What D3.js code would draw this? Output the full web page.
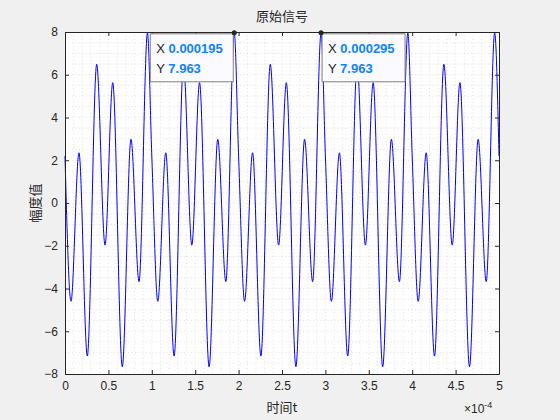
<!DOCTYPE html>
<html><head><meta charset="utf-8">
<script src="https://cdn.jsdelivr.net/npm/d3@7"></script>
<style>body{margin:0;background:#f0f0f0;}svg{display:block;font-family:"Liberation Sans",Arial,sans-serif;}</style>
</head><body>
<script>
let tPoints = [
  0, 0.069, 0.161, 0.257, 0.365, 0.461, 0.550, 0.660, 0.760, 0.853, 0.950,
  1.0, 1.069, 1.161, 1.257, 1.365, 1.461, 1.550, 1.660, 1.760, 1.853, 1.950,
  2.0, 2.069, 2.161, 2.257, 2.365, 2.461, 2.550, 2.660, 2.760, 2.853, 2.950,
  3.0, 3.069, 3.161, 3.257, 3.365, 3.461, 3.550, 3.660, 3.760, 3.853, 3.950,
  4.0, 4.069, 4.161, 4.257, 4.365, 4.461, 4.550, 4.660, 4.760, 4.853, 4.950, 5.0
];
let yPoints = [
  2.2, -4.6, 2.35, -7.16, 6.49, -1.97, 5.63, -7.66, 2.98, -3.68, 7.963,
  2.2, -4.6, 2.35, -7.16, 6.49, -1.97, 5.63, -7.66, 2.98, -3.68, 7.963,
  2.2, -4.6, 2.35, -7.16, 6.49, -1.97, 5.63, -7.66, 2.98, -3.68, 7.963,
  2.2, -4.6, 2.35, -7.16, 6.49, -1.97, 5.63, -7.66, 2.98, -3.68, 7.963,
  2.2, -4.6, 2.35, -7.16, 6.49, -1.97, 5.63, -7.66, 2.98, -3.68, 7.963, 2.2
];
let xTicks = [0, 0.5, 1, 1.5, 2, 2.5, 3, 3.5, 4, 4.5, 5];
let yTicks = [-8, -6, -4, -2, 0, 2, 4, 6, 8];
let tips = [{x: 1.95, label: "0.000195", y: 7.963, side: -1}, {x: 2.95, label: "0.000295", y: 7.963, side: 1}];

let w = 560, h = 420;
let mLeft = 65, mRight = 499, mTop = 32, mBottom = 374;

let xScale = d3.scaleLinear().domain([0, 5]).range([mLeft, mRight]);
let yScale = d3.scaleLinear().domain([-8, 8]).range([mBottom, mTop]);

let svg = d3.select("body").append("svg").attr("width", w).attr("height", h);
svg.append("rect").attr("x", mLeft).attr("y", mTop).attr("width", mRight - mLeft).attr("height", mBottom - mTop).attr("fill", "#fff");

// minor grid
let grid = svg.append("g").attr("stroke", "#c4c4c4").attr("stroke-width", 0.5).attr("stroke-dasharray", "1,2.5");
grid.selectAll(".mx").data(d3.range(1, 50).map(i => i / 10)).enter().append("line")
  .attr("x1", d => xScale(d)).attr("x2", d => xScale(d)).attr("y1", mTop).attr("y2", mBottom);
grid.selectAll(".my").data(d3.range(-15, 16).map(i => i / 2)).enter().append("line")
  .attr("y1", d => yScale(d)).attr("y2", d => yScale(d)).attr("x1", mLeft).attr("x2", mRight);

let line = d3.line().x((d, i) => xScale(tPoints[i])).y(d => yScale(d)).curve(d3.curveMonotoneX);
svg.append("path").datum(yPoints).attr("d", line).attr("fill", "none").attr("stroke", "#0000ff").attr("stroke-width", 1);

let xAxis = d3.axisBottom(xScale).tickValues(xTicks).tickSizeInner(-4).tickSizeOuter(0).tickPadding(7).tickFormat(d3.format("~g"));
let yAxis = d3.axisLeft(yScale).tickValues(yTicks).tickSizeInner(-4).tickSizeOuter(0).tickPadding(7);
svg.append("g").attr("transform", "translate(0," + mBottom + ")").call(xAxis);
svg.append("g").attr("transform", "translate(" + mLeft + ",0)").call(yAxis);
svg.append("g").attr("transform", "translate(0," + mTop + ")").call(d3.axisTop(xScale).tickValues(xTicks).tickSizeInner(-4).tickSizeOuter(0).tickFormat(""));
svg.append("g").attr("transform", "translate(" + mRight + ",0)").call(d3.axisRight(yScale).tickValues(yTicks).tickSizeInner(-4).tickSizeOuter(0).tickFormat(""));
svg.selectAll(".domain, .tick line").attr("stroke", "#262626");
svg.selectAll(".tick text").attr("font-size", 12).attr("fill", "#262626");

svg.append("text").attr("x", (mLeft + mRight) / 2).attr("y", 21).attr("text-anchor", "middle")
  .attr("font-family", "Noto Sans CJK SC").attr("font-size", 13).attr("fill", "#262626").text("原始信号");
svg.append("text").attr("x", (mLeft + mRight) / 2).attr("y", 412).attr("text-anchor", "middle")
  .attr("font-family", "Noto Sans CJK SC").attr("font-size", 13).attr("fill", "#262626").text("时间t");
svg.append("text").attr("transform", "translate(40," + (mTop + mBottom) / 2 + ") rotate(-90)").attr("text-anchor", "middle")
  .attr("font-family", "Noto Sans CJK SC").attr("font-size", 13).attr("fill", "#262626").text("幅度值");
let ex = svg.append("text").attr("x", 464).attr("y", 413).attr("font-size", 12).attr("fill", "#262626");
ex.append("tspan").text("×10");
ex.append("tspan").attr("dy", -5).attr("font-size", 9).text("-4");

// data tips
tips.forEach(t => {
  let px = xScale(t.x), py = yScale(t.y);
  let bx = t.side < 0 ? px - 84 : px + 1;
  let g = svg.append("g");
  g.append("rect").attr("x", bx).attr("y", py + 1).attr("width", 83).attr("height", 48)
    .attr("fill", "#fafaff").attr("stroke", "#808080");
  let tx = g.append("text").attr("x", bx + 6).attr("y", py + 20).attr("font-size", 13);
  tx.append("tspan").attr("fill", "#262626").text("X ");
  tx.append("tspan").attr("fill", "#0a84ff").attr("font-weight", "bold").text(t.label);
  let ty = g.append("text").attr("x", bx + 6).attr("y", py + 40).attr("font-size", 13);
  ty.append("tspan").attr("fill", "#262626").text("Y ");
  ty.append("tspan").attr("fill", "#0a84ff").attr("font-weight", "bold").text(t.y);
  g.append("circle").attr("cx", px).attr("cy", py).attr("r", 2.5).attr("fill", "#262626");
});
</script>
</body></html>
